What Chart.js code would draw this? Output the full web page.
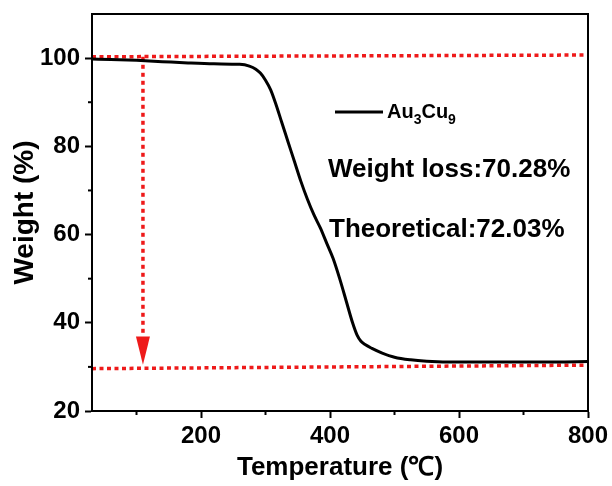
<!DOCTYPE html>
<html>
<head>
<meta charset="utf-8">
<title>TGA Au3Cu9</title>
<script src="https://cdn.jsdelivr.net/npm/chart.js@4.4.1/dist/chart.umd.min.js"></script>
<style>
  html, body { margin: 0; padding: 0; background: #fff; }
</style>
</head>
<body>
<canvas id="tga" width="612" height="486"></canvas>
<script>
// TGA curve: temperature (°C) vs remaining weight (%)
const temperature = [31, 60, 100, 140, 180, 220, 260, 275, 285, 292, 300, 308, 316, 325, 335, 345, 355, 365, 375, 385, 395, 405, 415, 425, 435, 442, 448, 455, 465, 480, 500, 525, 550, 600, 650, 700, 750, 800];
const weight = [99.8, 99.7, 99.5, 99.2, 98.9, 98.7, 98.6, 98.2, 97.5, 96.6, 95.0, 92.8, 89.6, 85.5, 81.0, 76.5, 72.0, 68.0, 64.5, 61.5, 58.0, 54.5, 50.0, 45.0, 40.0, 37.2, 35.8, 35.0, 34.2, 33.2, 32.2, 31.6, 31.3, 31.1, 31.1, 31.1, 31.1, 31.2];

// red guide lines: start level, end level and the drop arrow
const startLineX = [31, 800];
const startLineY = [100.3, 100.7];
const endLineX = [31, 800];
const endLineY = [29.6, 30.4];
const arrowX = [110, 110];
const arrowY = [100.3, 36.9];
const arrowTipY = 30.5;

const xTicks = [200, 400, 600, 800];
const xMinor = [100, 300, 500, 700];
const yTicks = [20, 40, 60, 80, 100];
const yMinor = [30, 50, 70, 90];

const legendParts = [["Au", false], ["3", true], ["Cu", false], ["9", true]];
const notes = ["Weight loss:70.28%", "Theoretical:72.03%"];

const FONT = "'Liberation Sans', Arial, sans-serif";
const RED = "#ee1a1a";

const toPoints = (xs, ys) => xs.map((v, i) => ({ x: v, y: ys[i] }));

const extras = {
  id: "extras",
  afterDatasetsDraw(chart) {
    const { ctx, chartArea: a, scales: { x, y } } = chart;
    ctx.save();

    // arrow head
    const ax = x.getPixelForValue(arrowX[1]);
    const base = y.getPixelForValue(arrowY[1]);
    const tip = y.getPixelForValue(arrowTipY);
    ctx.fillStyle = RED;
    ctx.beginPath();
    ctx.moveTo(ax - 7, base);
    ctx.lineTo(ax + 7, base);
    ctx.lineTo(ax, tip);
    ctx.closePath();
    ctx.fill();

    // minor ticks
    ctx.strokeStyle = "#000";
    ctx.lineWidth = 2;
    xMinor.forEach((v) => {
      const px = x.getPixelForValue(v);
      ctx.beginPath();
      ctx.moveTo(px, a.bottom);
      ctx.lineTo(px, a.bottom + 4);
      ctx.stroke();
    });
    yMinor.forEach((v) => {
      const py = y.getPixelForValue(v);
      ctx.beginPath();
      ctx.moveTo(a.left, py);
      ctx.lineTo(a.left - 4, py);
      ctx.stroke();
    });

    // box around the plot
    ctx.strokeRect(a.left, a.top, a.right - a.left, a.bottom - a.top);

    // legend
    ctx.lineWidth = 3;
    ctx.beginPath();
    ctx.moveTo(335, 112);
    ctx.lineTo(383, 112);
    ctx.stroke();
    ctx.fillStyle = "#000";
    ctx.textBaseline = "alphabetic";
    let tx = 387;
    legendParts.forEach(([s, sub]) => {
      ctx.font = sub ? "bold 14px " + FONT : "bold 20px " + FONT;
      ctx.fillText(s, tx, sub ? 124 : 118);
      tx += ctx.measureText(s).width;
    });

    // annotations
    ctx.font = "bold 26px " + FONT;
    ctx.fillText(notes[0], 328, 177);
    ctx.fillText(notes[1], 329, 237);

    ctx.restore();
  },
};

new Chart(document.getElementById("tga"), {
  type: "scatter",
  data: {
    datasets: [
      {
        label: "Au3Cu9",
        data: toPoints(temperature, weight),
        showLine: true,
        borderColor: "#000",
        borderWidth: 3,
        pointRadius: 0,
        cubicInterpolationMode: "monotone",
      },
      {
        data: toPoints(startLineX, startLineY),
        showLine: true,
        borderColor: RED,
        borderWidth: 3.5,
        borderDash: [4, 3.5],
        pointRadius: 0,
      },
      {
        data: toPoints(endLineX, endLineY),
        showLine: true,
        borderColor: RED,
        borderWidth: 3.5,
        borderDash: [4, 3.5],
        pointRadius: 0,
      },
      {
        data: toPoints(arrowX, arrowY),
        showLine: true,
        borderColor: RED,
        borderWidth: 3.5,
        borderDash: [4, 4],
        pointRadius: 0,
      },
    ],
  },
  options: {
    responsive: false,
    animation: false,
    layout: { padding: { top: 14, right: 24, left: 0, bottom: 0 } },
    plugins: { legend: { display: false }, tooltip: { enabled: false } },
    scales: {
      x: {
        type: "linear",
        min: 31,
        max: 800,
        afterBuildTicks: (s) => { s.ticks = xTicks.map((v) => ({ value: v })); },
        afterFit: (s) => {
          s.height = 75;
          s.paddingLeft = 0;
          s.paddingRight = 0;
        },
        grid: { drawOnChartArea: false, tickLength: 7, tickWidth: 2, tickColor: "#000" },
        border: { color: "#000", width: 2 },
        ticks: { color: "#000", padding: 4, maxRotation: 0, font: { family: FONT, size: 24, weight: "bold" } },
        title: {
          display: true,
          text: "Temperature (℃)",
          color: "#000",
          padding: { top: 0, bottom: 3 },
          font: { family: FONT, size: 26, weight: "bold" },
        },
      },
      y: {
        type: "linear",
        min: 20,
        max: 110,
        afterBuildTicks: (s) => { s.ticks = yTicks.map((v) => ({ value: v })); },
        afterFit: (s) => {
          s.width = 92;
          s.paddingTop = 0;
          s.paddingBottom = 0;
        },
        grid: { drawOnChartArea: false, tickLength: 7, tickWidth: 2, tickColor: "#000" },
        border: { color: "#000", width: 2 },
        ticks: { color: "#000", padding: 5, font: { family: FONT, size: 24, weight: "bold" } },
        title: {
          display: true,
          text: "Weight (%)",
          color: "#000",
          padding: { top: 8, bottom: 0 },
          font: { family: FONT, size: 28, weight: "bold" },
        },
      },
    },
  },
  plugins: [extras],
});
</script>
</body>
</html>
